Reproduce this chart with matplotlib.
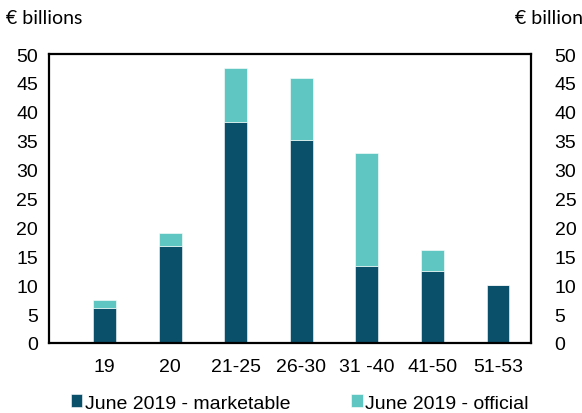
import matplotlib
matplotlib.use("Agg")
import matplotlib.pyplot as plt
import numpy as np

# maturity buckets and amounts (EUR bn)
buckets = ["19", "20", "21-25", "26-30", "31 -40", "41-50", "51-53"]
marketable = [6.1, 16.8, 38.3, 35.1, 13.3, 12.5, 10.0]
official = [1.35, 2.2, 9.3, 10.7, 19.6, 3.6, 0.0]

dark = "#0b506a"
light = "#5fc6c2"

plt.rcParams["font.family"] = ["Liberation Sans", "DejaVu Sans"]

fig = plt.figure(figsize=(5.82, 4.14), dpi=100)
ax = fig.add_axes([49 / 582, 1 - 344 / 414, 482 / 582, 289 / 414])

x = np.arange(len(buckets))
ax.bar(x, marketable, width=0.35, color=dark, edgecolor="white", linewidth=0.4,
       label="June 2019 - marketable")
ax.bar(x, official, width=0.35, bottom=marketable, color=light, edgecolor="white",
       linewidth=0.4, label="June 2019 - official")

ax.set_xlim(-0.846, 6.503)
ax.set_ylim(0, 50)
ax.set_yticks(range(0, 51, 5))
ax.set_xticks(x)
ax.set_xticklabels(buckets)
ax.tick_params(axis="both", length=0, labelsize=14)
ax.tick_params(axis="y", pad=8)
ax.tick_params(axis="x", pad=11)
for s in ax.spines.values():
    s.set_linewidth(1.6)
    s.set_color("black")

ax2 = ax.twinx()
ax2.set_ylim(0, 50)
ax2.set_yticks(range(0, 51, 5))
ax2.tick_params(axis="y", length=0, labelsize=14, pad=17)
for s in ax2.spines.values():
    s.set_visible(False)

fig.text(6 / 582, 1 - 19 / 414, "€ billions", fontsize=14, family="Lato",
         va="center", ha="left")
fig.text(515 / 582, 1 - 19 / 414, "€ billion", fontsize=14, family="Lato",
         va="center", ha="left")

fig.legend(loc="center", bbox_to_anchor=(0.515, 1 - 404 / 414), ncol=2,
           frameon=False, fontsize=14, handlelength=0.6, handleheight=0.6,
           handletextpad=0.15, columnspacing=3.1, borderpad=0)

fig.savefig("out.png", dpi=100)
